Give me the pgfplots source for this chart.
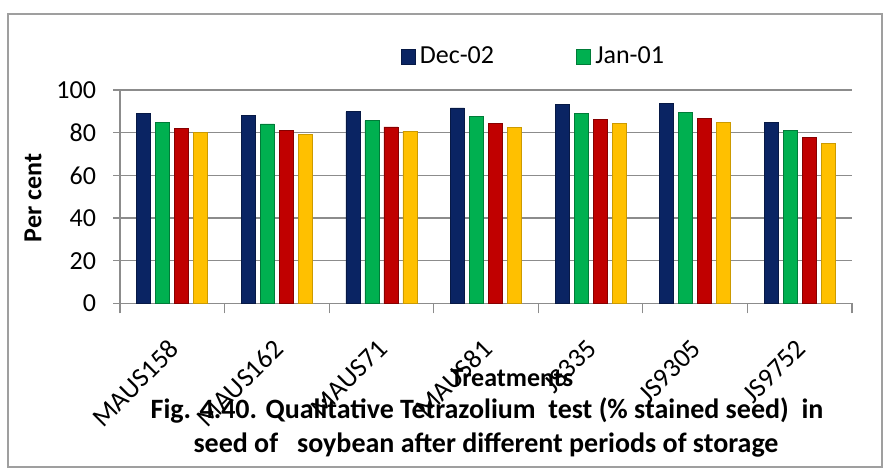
\documentclass[border=0pt]{standalone}
\usepackage{pgfplots}
\pgfplotsset{compat=1.18}
\usepackage{fontspec}
\setmainfont{Carlito}
\definecolor{cblue}{HTML}{0A2463}
\definecolor{cgreen}{HTML}{00B050}
\definecolor{cred}{HTML}{C00000}
\definecolor{cyel}{HTML}{FFC000}
\definecolor{gridc}{HTML}{8C8C8C}
\begin{document}
\begin{tikzpicture}
\path[use as bounding box] (0,0) rectangle (443.5pt,237.5pt);
\draw[gray!75, line width=1pt] (4pt,4pt) rectangle (441pt,230.5pt);
\begin{axis}[
  at={(60pt,85.75pt)}, anchor=south west,
  scale only axis, width=366pt, height=106.75pt,
  xmin=-0.5, xmax=6.5, ymin=0, ymax=100,
  ybar=2.5pt, bar width=7pt,
  axis lines*=left,
  axis line style={gridc, line width=0.6pt},
  xtick={0,1,2,3,4,5,6},
  xticklabels={MAUS158,MAUS162,MAUS71,MAUS81,JS335,JS9305,JS9752},
  major x tick style={draw=none},
  minor xtick={-0.5,0.5,1.5,2.5,3.5,4.5,5.5,6.5},
  minor tick length=5pt,
  minor x tick style={gridc, line width=0.6pt},
  xtick align=outside, ytick align=outside,
  ytick={0,20,40,60,80,100},
  major tick length=3.5pt,
  major y tick style={gridc, line width=0.6pt},
  ymajorgrids, grid style={gridc, line width=0.7pt},
  yticklabel style={xshift=-5pt, font=\fontsize{13}{15}\selectfont},
  xticklabel style={rotate=45, anchor=north east, xshift=-8pt, yshift=-4.5pt, font=\fontsize{13.5}{15}\selectfont},
  /pgf/number format/assume math mode=true,
  legend entries={Dec-02,Jan-01},
  legend style={at={(0.566,1.155)}, anchor=center, draw=none, fill=none,
    font=\fontsize{13}{15}\selectfont, legend columns=2,
    /tikz/every even column/.append style={column sep=39pt}},
  legend image code/.code={\filldraw[#1] (0pt,-3.6pt) rectangle (7.2pt,3.6pt);},
]
\addplot[fill=cblue, draw=cblue!70!black, line width=0.4pt] coordinates {(0,89.2) (1,88.2) (2,89.8) (3,91.6) (4,93.2) (5,93.5) (6,84.8)};
\addplot[fill=cgreen, draw=cgreen!70!black, line width=0.4pt] coordinates {(0,85.0) (1,84.1) (2,85.7) (3,87.6) (4,89.2) (5,89.6) (6,80.9)};
\addplot[fill=cred, draw=cred!70!black, line width=0.4pt] coordinates {(0,82.0) (1,80.9) (2,82.7) (3,84.5) (4,86.0) (5,86.5) (6,77.7)};
\addplot[fill=cyel, draw=cyel!80!black, line width=0.4pt] coordinates {(0,80.3) (1,79.0) (2,80.7) (3,82.6) (4,84.3) (5,84.6) (6,75.1)};
\end{axis}
\node[font=\bfseries\fontsize{13}{15}\selectfont, rotate=90] at (16.5pt,138.5pt) {Per cent};
\node[font=\bfseries\fontsize{13}{15}\selectfont] at (256pt,48.5pt) {Treatments};
\node[font=\bfseries\fontsize{14}{16}\selectfont] at (243.5pt,32.5pt) {Fig. 4.40. Qualitative Tetrazolium\ \ test (\% stained seed)\ \ in};
\node[font=\bfseries\fontsize{14}{16}\selectfont] at (243pt,15pt) {seed of\ \ \ soybean after different periods of storage};
\end{tikzpicture}
\end{document}
